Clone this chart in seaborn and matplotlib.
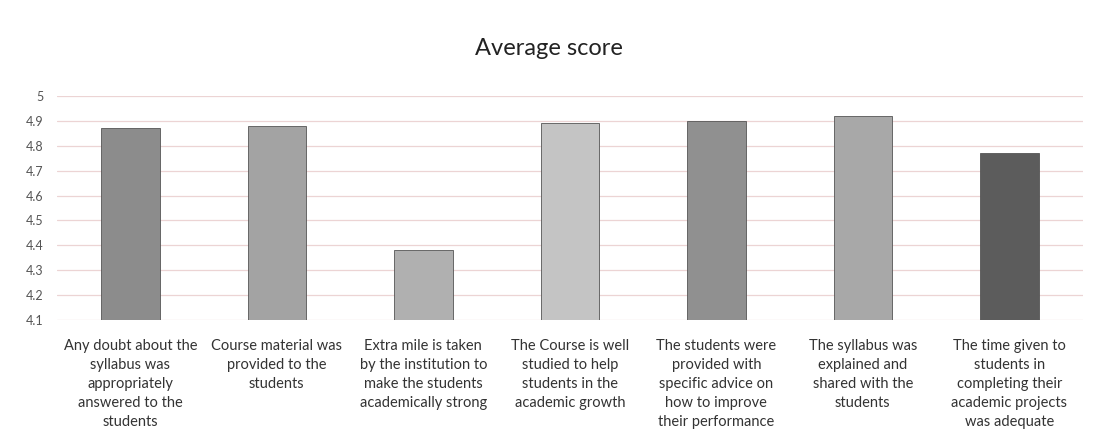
import matplotlib
matplotlib.use("Agg")
import matplotlib.pyplot as plt
import seaborn as sns
import pandas as pd

categories = [
    "Any doubt about the\nsyllabus was\nappropriately\nanswered to the\nstudents",
    "Course material was\nprovided to the\nstudents",
    "Extra mile is taken\nby the institution to\nmake the students\nacademically strong",
    "The Course is well\nstudied to help\nstudents in the\nacademic growth",
    "The students were\nprovided with\nspecific advice on\nhow to improve\ntheir performance",
    "The syllabus was\nexplained and\nshared with the\nstudents",
    "The time given to\nstudents in\ncompleting their\nacademic projects\nwas adequate",
]
scores = [4.87, 4.88, 4.38, 4.89, 4.90, 4.92, 4.77]
y_ticks = [4.1, 4.2, 4.3, 4.4, 4.5, 4.6, 4.7, 4.8, 4.9, 5.0]
y_tick_labels = ["4.1", "4.2", "4.3", "4.4", "4.5", "4.6", "4.7", "4.8", "4.9", "5"]
bar_colors = ["#8c8c8c", "#a3a3a3", "#b0b0b0", "#c4c4c4", "#909090", "#a8a8a8", "#5c5c5c"]

sns.set_style("white")
plt.rcParams["font.family"] = ["Lato", "DejaVu Sans"]

df = pd.DataFrame({"category": categories, "score": scores})

fig = plt.figure(figsize=(10.98, 4.45), dpi=100)
ax = fig.add_axes([0.052, 0.281, 0.934, 0.503])

sns.barplot(data=df, x="category", y="score", hue="category", palette=bar_colors,
            width=0.4, legend=False, ax=ax, edgecolor="#555555", linewidth=0.6,
            zorder=3)

ax.set_ylim(4.1, 5.0)
ax.set_yticks(y_ticks)
ax.set_yticklabels(y_tick_labels, fontsize=9, color="#555555")
ax.set_xlabel("")
ax.set_ylabel("")
ax.tick_params(axis="x", labelsize=10.5, colors="#333333", length=0, pad=14)
ax.tick_params(axis="y", length=0, pad=10)
for lbl in ax.get_xticklabels():
    lbl.set_linespacing(1.45)
ax.grid(axis="y", color="#ecd4d4", linewidth=0.9, zorder=0)
for s in ax.spines.values():
    s.set_visible(False)

fig.text(0.5, 0.89, "Average score", ha="center", va="center", fontsize=17, color="#222222")

fig.savefig("out.png", dpi=100, facecolor="white")
